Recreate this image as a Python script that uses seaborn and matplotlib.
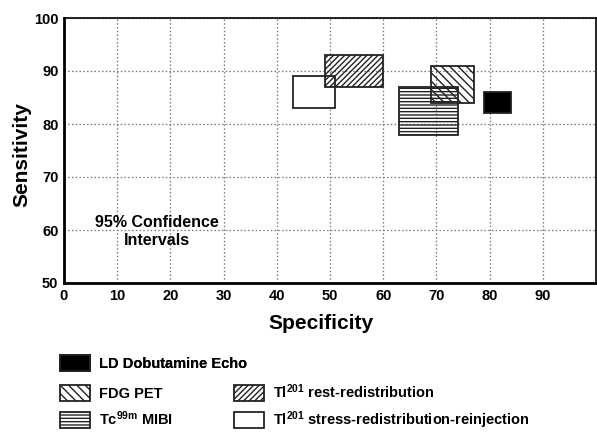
import matplotlib
matplotlib.use("Agg")
import matplotlib.pyplot as plt
import seaborn as sns
from matplotlib.patches import Patch

# ---- data ----
methods = ["LD Dobutamine Echo", "FDG PET", "Tc$^{99m}$ MIBI",
           "Tl$^{201}$ rest-redistribution",
           "Tl$^{201}$ stress-redistribution-reinjection"]
spec_low = [79, 69, 63, 49, 43]
spec_high = [84, 77, 74, 60, 51]
sens_low = [82, 84, 78, 87, 83]
sens_high = [86, 91, 87, 93, 89]
x_ticks = [0, 10, 20, 30, 40, 50, 60, 70, 80, 90]
y_ticks = [50, 60, 70, 80, 90, 100]

# ---- styles ----
facecolors = ["black", "none", "none", "none", "white"]
hatches = [None, "\\\\\\\\", "-----", "//////", None]
draw_order = [4, 3, 2, 1, 0]

sns.set_style("white")
plt.rcParams["font.family"] = ["Liberation Sans", "DejaVu Sans"]
plt.rcParams["font.weight"] = "bold"
plt.rcParams["text.color"] = "black"
plt.rcParams["axes.labelcolor"] = "black"
plt.rcParams["xtick.color"] = "black"
plt.rcParams["ytick.color"] = "black"
plt.rcParams["mathtext.fontset"] = "custom"
plt.rcParams["mathtext.bf"] = "Liberation Sans:bold"
plt.rcParams["mathtext.rm"] = "Liberation Sans:bold"
plt.rcParams["mathtext.default"] = "bf"
plt.rcParams["hatch.linewidth"] = 1.0
plt.rcParams["hatch.color"] = "#222222"

fig = plt.figure(figsize=(5.97, 4.32), dpi=100)
ax = fig.add_axes([64 / 597, 1 - 283 / 432, 532 / 597, 265 / 432])

for i in draw_order:
    ax.bar(spec_low[i], sens_high[i] - sens_low[i], bottom=sens_low[i],
           width=spec_high[i] - spec_low[i], align="edge",
           facecolor=facecolors[i], edgecolor="#222222", linewidth=1.3,
           hatch=hatches[i], zorder=3)

ax.set_xlim(0, 100)
ax.set_ylim(50, 100)
ax.set_xticks(x_ticks)
ax.set_yticks(y_ticks)
ax.tick_params(length=0, labelsize=10.5, pad=4)
for lab in ax.get_xticklabels() + ax.get_yticklabels():
    lab.set_fontweight("bold")
ax.grid(True, color="#777777", linestyle=(0, (1.2, 1.8)), linewidth=0.9)
ax.set_axisbelow(True)
for s in ax.spines.values():
    s.set_color("black")
    s.set_linewidth(1.2)
ax.spines["left"].set_linewidth(2)
ax.spines["bottom"].set_linewidth(2)

ax.set_xlabel("Specificity", fontsize=15, fontweight="bold")
ax.set_ylabel("Sensitivity", fontsize=15, fontweight="bold")
ax.xaxis.set_label_coords((321 - 64) / 532, -(314 - 283) / 265)
ax.yaxis.set_label_coords((31 - 64) / 532, (283 - 155) / 265)

ax.text(17.5, 59.7, "95% Confidence\nIntervals", ha="center", va="center",
        fontsize=11.5, fontweight="bold", linespacing=1.2)

def handle(i):
    return Patch(facecolor=facecolors[i] if facecolors[i] != "none" else "white",
                 edgecolor="#222222", hatch=hatches[i], linewidth=1.3)

leg1 = fig.legend([handle(0)], [methods[0]], loc="center left",
                  bbox_to_anchor=(60 / 597, 1 - 363 / 432), frameon=False,
                  fontsize=10.5, handlelength=2.05, handleheight=1.3,
                  handletextpad=0.65, borderpad=0, borderaxespad=0)
fig.add_artist(leg1)
order = [1, 2, 3, 4]
leg2 = fig.legend([handle(i) for i in order], [methods[i] for i in order],
                  loc="upper left", ncol=2,
                  bbox_to_anchor=(60 / 597, 1 - 382 / 432), frameon=False,
                  fontsize=10.5, handlelength=2.05, handleheight=1.3,
                  handletextpad=0.65, borderpad=0, borderaxespad=0,
                  labelspacing=0.62, columnspacing=4.15)
for t in list(leg1.get_texts()) + list(leg2.get_texts()):
    t.set_fontweight("bold")

fig.savefig("out.png", dpi=100)
